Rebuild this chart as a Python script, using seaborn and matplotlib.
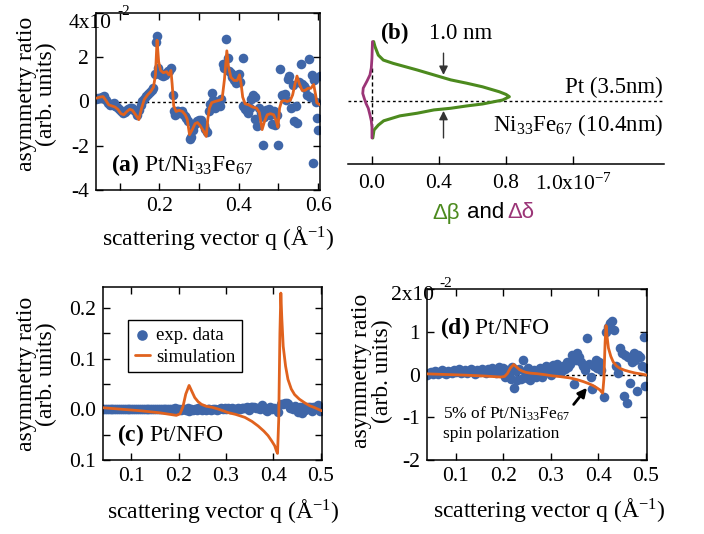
import numpy as np
import pandas as pd
import matplotlib
matplotlib.use("Agg")
import matplotlib.pyplot as plt
import seaborn as sns

# ---------------- data ----------------
# (a) Pt/Ni33Fe67 : asymmetry ratio in units of 1e-2
q_a_exp = [0.041, 0.046, 0.051, 0.056, 0.061, 0.066, 0.070, 0.075, 0.080, 0.085,
           0.089, 0.094, 0.099, 0.103, 0.108, 0.112, 0.117, 0.121, 0.126, 0.130,
           0.135, 0.139, 0.144, 0.148, 0.153, 0.157, 0.162, 0.166, 0.171, 0.175,
           0.180, 0.184, 0.188, 0.191, 0.194, 0.197, 0.201, 0.205, 0.209, 0.213,
           0.217, 0.221, 0.225, 0.229, 0.233, 0.236, 0.240, 0.244, 0.248, 0.252,
           0.256, 0.260, 0.264, 0.268, 0.272, 0.276, 0.280, 0.284, 0.288, 0.292,
           0.296, 0.300, 0.304, 0.308, 0.312, 0.316, 0.320, 0.324, 0.328, 0.332,
           0.336, 0.340, 0.344, 0.348, 0.352, 0.356, 0.360, 0.364, 0.368, 0.372,
           0.376, 0.380, 0.384, 0.388, 0.392, 0.396, 0.400, 0.404, 0.410, 0.412,
           0.416, 0.420, 0.424, 0.428, 0.432, 0.436, 0.440, 0.442, 0.445, 0.450,
           0.455, 0.460, 0.464, 0.468, 0.472, 0.476, 0.480, 0.484, 0.488, 0.492,
           0.496, 0.500, 0.504, 0.508, 0.512, 0.516, 0.520, 0.524, 0.528, 0.532,
           0.536, 0.540, 0.544, 0.548, 0.552, 0.556, 0.560, 0.564, 0.568, 0.572,
           0.576, 0.580, 0.584, 0.588, 0.590, 0.594, 0.597, 0.600, 0.604]
asym_a_exp = [0.12, 0.15, 0.17, 0.22, 0.23, 0.09, -0.05, -0.14, -0.10, -0.08,
              -0.21, -0.25, -0.36, -0.45, -0.51, -0.48, -0.40, -0.33, -0.29, -0.30,
              -0.38, -0.45, -0.59, -0.40, -0.14, 0.02, 0.12, 0.25, 0.33, 0.42,
              0.50, 0.62, 1.23, 2.70, 2.97, 1.50, 1.30, 1.20, 1.15, 1.20,
              1.30, 1.38, 1.40, 1.50, 0.29, -0.44, -0.60, -0.45, -0.41, -0.50,
              -0.41, -0.55, -0.67, -0.74, -0.90, -1.70, -1.60, -1.30, -1.05, -0.95,
              -0.89, -0.82, -0.85, -0.95, -1.05, -1.25, -1.36, -0.44, -0.10, 0.39,
              0.05, -0.30, -0.15, 0.00, -0.20, 0.10, 1.68, 1.50, 2.82, 1.98,
              1.40, 1.30, 1.10, 0.95, 0.85, 1.20, 1.23, 0.90, 1.98, -0.20,
              -0.35, -0.45, -0.50, -0.30, 0.10, 0.30, -0.80, 0.20, -1.10, -0.30,
              -0.50, -1.95, -0.70, -0.40, -0.55, -0.35, -0.60, -1.00, -0.45, -1.05,
              -0.60, -1.95, 1.45, 0.30, 0.25, 0.35, 0.05, 1.00, 1.15, -0.30,
              0.75, -0.90, -0.20, -0.95, 0.90, 1.68, 0.80, 0.70, 0.60, 0.30,
              1.90, 0.20, 1.20, -2.79, 0.95, 0.00, -0.74, -1.30, 1.15]
q_a_sim = [0.041, 0.050, 0.058, 0.065, 0.072, 0.080, 0.088, 0.095, 0.103, 0.110,
           0.118, 0.125, 0.132, 0.140, 0.148, 0.155, 0.162, 0.170, 0.178, 0.185,
           0.190, 0.194, 0.198, 0.203, 0.210, 0.218, 0.224, 0.229, 0.232, 0.236,
           0.242, 0.250, 0.258, 0.265, 0.270, 0.276, 0.282, 0.290, 0.296, 0.303,
           0.310, 0.318, 0.322, 0.326, 0.332, 0.340, 0.350, 0.358, 0.364, 0.370,
           0.374, 0.380, 0.388, 0.396, 0.402, 0.406, 0.410, 0.416, 0.425, 0.435,
           0.445, 0.452, 0.459, 0.465, 0.472, 0.480, 0.488, 0.494, 0.499, 0.503,
           0.508, 0.515, 0.522, 0.530, 0.536, 0.542, 0.547, 0.553, 0.560, 0.567,
           0.575, 0.582, 0.589, 0.594, 0.597, 0.605]
asym_a_sim = [0.15, 0.20, 0.22, 0.05, -0.15, -0.20, -0.25, -0.35, -0.55, -0.60,
              -0.45, -0.35, -0.40, -0.60, -0.82, -0.30, 0.10, 0.30, 0.45, 0.65,
              1.20, 2.77, 1.80, 1.40, 1.30, 1.35, 1.20, 1.40, 0.80, -0.20,
              -0.45, -0.40, -0.45, -0.60, -0.80, -1.50, -1.30, -1.00, -0.95, -1.10,
              -1.30, -1.58, -0.80, -0.30, -0.05, 0.00, 0.05, 0.10, 1.00, 2.29,
              1.60, 1.10, 0.95, 0.95, 1.20, 0.80, 0.20, -0.10, -0.15, -0.25,
              -0.30, -0.50, -1.27, -0.90, -0.60, -0.55, -0.60, -0.85, -1.17, -0.30,
              0.00, 0.05, 0.00, 0.05, 0.30, 0.80, 1.15, 0.80, 0.50, 0.50,
              0.60, 0.60, 0.77, 0.30, -0.06, -0.15]

# (c)/(d) Pt/NFO experimental data, asymmetry ratio in units of 1e-2
q_nfo_exp = [0.040, 0.044, 0.048, 0.052, 0.056, 0.060, 0.064, 0.068, 0.072, 0.076,
             0.080, 0.084, 0.088, 0.092, 0.096, 0.100, 0.104, 0.108, 0.112, 0.116,
             0.120, 0.124, 0.128, 0.132, 0.136, 0.140, 0.144, 0.148, 0.152, 0.156,
             0.160, 0.164, 0.168, 0.172, 0.176, 0.180, 0.184, 0.188, 0.192, 0.196,
             0.200, 0.204, 0.208, 0.212, 0.216, 0.219, 0.222, 0.226, 0.230, 0.234,
             0.238, 0.241, 0.245, 0.249, 0.253, 0.257, 0.261, 0.265, 0.269, 0.273,
             0.277, 0.281, 0.285, 0.289, 0.293, 0.297, 0.301, 0.305, 0.309, 0.313,
             0.317, 0.321, 0.325, 0.329, 0.333, 0.337, 0.341, 0.345, 0.348, 0.352,
             0.356, 0.360, 0.364, 0.368, 0.372, 0.376, 0.380, 0.384, 0.387, 0.390,
             0.394, 0.398, 0.402, 0.406, 0.411, 0.416, 0.420, 0.424, 0.428, 0.432,
             0.436, 0.442, 0.445, 0.449, 0.453, 0.456, 0.460, 0.463, 0.467, 0.470,
             0.474, 0.477, 0.481, 0.484, 0.488, 0.491, 0.495, 0.498, 0.502]
asym_nfo_exp = [0.00, 0.03, 0.06, 0.02, 0.08, 0.05, 0.01, 0.07, 0.10, 0.04,
                0.02, 0.09, 0.06, 0.03, 0.11, 0.05, 0.08, 0.12, 0.04, 0.07,
                0.10, 0.03, 0.09, 0.13, 0.06, 0.02, 0.11, 0.08, 0.05, 0.14,
                0.09, 0.04, 0.12, 0.07, 0.15, 0.10, 0.03, 0.13, 0.18, 0.08,
                0.15, -0.05, 0.10, 0.05, -0.10, 0.18, -0.31, 0.08, -0.12, 0.12,
                -0.10, 0.34, 0.05, -0.08, 0.15, -0.12, 0.05, 0.10, -0.05, 0.08,
                0.15, -0.05, 0.12, 0.20, 0.05, 0.18, -0.02, 0.22, 0.10, 0.25,
                0.15, 0.05, 0.20, 0.12, 0.30, 0.18, 0.25, 0.45, -0.23, 0.35,
                0.50, 0.40, 0.30, 0.20, 0.10, 0.86, 0.25, -0.05, -0.35, 0.20,
                0.35, 0.15, 0.30, 0.10, -0.52, 1.00, 1.10, 1.20, 1.25, 1.05,
                0.20, 0.04, 0.62, 0.50, -0.50, 0.45, -0.66, 0.40, -0.19, 0.30,
                0.50, 0.35, -0.39, 0.45, 0.40, 0.20, 0.88, -0.27, 0.15]
# Pt/NFO simulation (absolute asymmetry ratio, panel c)
q_nfo_sim = [0.040, 0.080, 0.120, 0.160, 0.195, 0.203, 0.209, 0.215, 0.222, 0.228,
             0.234, 0.241, 0.248, 0.258, 0.270, 0.285, 0.304, 0.320, 0.340, 0.355,
             0.368, 0.380, 0.389, 0.397, 0.403, 0.407, 0.409, 0.4115, 0.414, 0.416,
             0.418, 0.421, 0.426, 0.431, 0.438, 0.445, 0.455, 0.466, 0.477, 0.488,
             0.502]
asym_nfo_sim = [0.003, 0.000, -0.003, -0.007, -0.012, -0.009, 0.005, 0.030, 0.047, 0.035,
                0.023, 0.015, 0.0098, 0.006, 0.004, 0.000, -0.0065, -0.010, -0.016, -0.024,
                -0.033, -0.043, -0.052, -0.063, -0.072, -0.083, -0.087, -0.020, 0.150, 0.229,
                0.180, 0.124, 0.085, 0.059, 0.040, 0.029, 0.020, 0.013, 0.007, 0.003,
                -0.003]
spin_fraction = 0.05          # panel (d): 5% of Pt/Ni33Fe67 spin polarization

# (b) depth profiles (depth in nm relative to interface, values in 1e-7)
depth_beta = [1.80, 1.65, 1.39, 1.24, 1.14, 0.94, 0.79, 0.64, 0.54, 0.43,
              0.28, 0.20, 0.13, 0.03, -0.09, -0.15, -0.22, -0.27, -0.37, -0.45,
              -0.60, -0.73, -0.88, -1.12]
delta_beta = [0.010, 0.018, 0.038, 0.068, 0.127, 0.270, 0.370, 0.470, 0.565, 0.660,
              0.760, 0.800, 0.820, 0.780, 0.660, 0.565, 0.470, 0.370, 0.270, 0.167,
              0.070, 0.038, 0.012, 0.005]
depth_delta = [1.80, 1.30, 1.00, 0.79, 0.60, 0.39, 0.23, 0.08, -0.08, -0.22,
               -0.42, -0.60, -0.80, -1.12]
delta_delta = [0.003, 0.000, -0.004, -0.012, -0.030, -0.052, -0.055, -0.046, -0.035, -0.022,
               -0.012, -0.004, 0.000, 0.000]

# ---------------- style ----------------
BLUE = "#3F66A8"
ORANGE = "#E0621E"
GREEN = "#4C8A1E"
PURPLE = "#9B3577"

sns.set_theme(style="ticks")
plt.rcParams.update({
    "font.family": ["Liberation Serif", "DejaVu Serif"],
    "mathtext.fontset": "custom",
    "mathtext.rm": "Liberation Serif",
    "mathtext.it": "Liberation Serif:italic",
    "mathtext.bf": "Liberation Serif:bold",
    "mathtext.default": "regular",
    "axes.unicode_minus": False,
    "axes.edgecolor": "black",
    "axes.linewidth": 1.0,
    "xtick.color": "black",
    "ytick.color": "black",
    "text.color": "black",
})

W, H = 704, 534
fig = plt.figure(figsize=(W / 100, H / 100), dpi=100)


def rect(l, t, r, b):
    return [l / W, 1 - b / H, (r - l) / W, (b - t) / H]


TICK = 15.5
LAB = 17
PANEL = 17


def style_axes(ax):
    for s in ax.spines.values():
        s.set_color("black")
        s.set_linewidth(1.1)
    ax.tick_params(which="both", direction="in", top=True, right=True,
                   length=5, width=1.0, labelsize=TICK, pad=5, colors="black")


def ylabel(x, y):
    fig.text(x / W, 1 - y / H, "asymmetry ratio\n(arb. units)", rotation=90,
             ha="center", va="center", multialignment="center", fontsize=LAB,
             linespacing=0.95)


def xlabel(x, y):
    fig.text(x / W, 1 - y / H, r"scattering vector q ($\AA^{-1}$)",
             ha="center", va="center", fontsize=LAB)


def top_label(x, y_base, mant):
    # Igor-style top tick label "Nx10^-2" with a high exponent
    fig.text(x / W, 1 - y_base / H, mant + "x10", fontsize=TICK,
             ha="left", va="baseline")
    fig.text((x + 48.5) / W, 1 - (y_base - 13) / H, "-2", fontsize=11,
             ha="left", va="baseline")


df_a_exp = pd.DataFrame({"q": q_a_exp, "r": asym_a_exp})
df_a_sim = pd.DataFrame({"q": q_a_sim, "r": asym_a_sim})
df_n_exp = pd.DataFrame({"q": q_nfo_exp, "r": asym_nfo_exp})
df_n_sim = pd.DataFrame({"q": q_nfo_sim, "r": asym_nfo_sim})

# ---------------- (a) ----------------
ax = fig.add_axes(rect(96, 13, 320, 190))
ax.axhline(0, color="black", lw=1.0, ls=(0, (2, 2)), zorder=1)
sns.scatterplot(data=df_a_exp, x="q", y="r", ax=ax, color=BLUE, s=48,
                linewidth=0, zorder=2)
sns.lineplot(data=df_a_sim, x="q", y="r", ax=ax, color=ORANGE, lw=2.0,
             sort=False, estimator=None, zorder=3)
ax.set_xlim(0.04, 0.605)
ax.set_ylim(-4, 4)
ax.set_xticks([0.2, 0.4, 0.6])
ax.set_xticklabels(["0.2", "0.4", "0.6"])
ax.set_xticks([0.1, 0.3, 0.5], minor=True)
ax.set_yticks([-4, -2, 0, 2, 4])
ax.set_yticklabels(["-4", "-2", "0", "2", ""])
ax.set_xlabel("")
ax.set_ylabel("")
style_axes(ax)
ax.text(0.065, 0.14, r"$\mathbf{(a)}$ Pt/Ni$_{33}$Fe$_{67}$", transform=ax.transAxes,
        fontsize=PANEL, ha="left", va="center")
top_label(69, 28, "4")
ylabel(36.5, 94)
xlabel(218, 238)

# ---------------- (b) ----------------
axb = fig.add_axes(rect(348, 12, 664, 164))
axb.axhline(0, color="black", lw=1.0, ls=(0, (2, 2)), zorder=1)
axb.plot([0, 0], [1.0, -0.8], color="black", lw=1.0, ls=(0, (3, 2)), zorder=1)
sns.lineplot(x=delta_beta, y=depth_beta, ax=axb, color=GREEN, lw=2.2,
             sort=False, estimator=None, zorder=3)
sns.lineplot(x=delta_delta, y=depth_delta, ax=axb, color=PURPLE, lw=2.0,
             sort=False, estimator=None, zorder=3)
axb.set_xlim(-0.143, 1.743)
axb.set_ylim(-1.909, 2.697)
for s in ["left", "right", "top"]:
    axb.spines[s].set_visible(False)
axb.spines["bottom"].set_linewidth(1.1)
axb.spines["bottom"].set_color("black")
axb.set_yticks([])
axb.set_xticks([0.0, 0.4, 0.8, 1.2])
axb.set_xticklabels(["0.0", "0.4", "0.8", r"1.0x10$^{-7}$"])
axb.tick_params(axis="x", direction="in", length=6, width=1.0, labelsize=TICK,
                pad=7, colors="black")
axb.set_xlabel("")
axb.set_ylabel("")
arrow_kw = dict(arrowstyle="-|>", color="#333333", lw=1.0, mutation_scale=13,
                shrinkA=0, shrinkB=0)
axb.annotate("", xy=(0.427, 0.79), xytext=(0.427, 1.45), arrowprops=arrow_kw)
axb.annotate("", xy=(0.427, -0.30), xytext=(0.427, -1.12), arrowprops=arrow_kw)
axb.text(0.137, 2.06, r"$\mathbf{(b)}$", fontsize=16.5, ha="center", va="center")
axb.text(0.53, 2.06, "1.0 nm", fontsize=16.5, ha="center", va="center")
axb.text(1.737, 0.42, "Pt (3.5nm)", fontsize=16.5, ha="right", va="center")
axb.text(1.737, -0.73, r"Ni$_{33}$Fe$_{67}$ (10.4nm)", fontsize=16.5, ha="right",
         va="center")
sans = ["Liberation Sans", "DejaVu Sans"]
fig.text(432 / W, 1 - 213 / H, "Δβ", color=GREEN, fontsize=16, family=sans,
         ha="left", va="center")
fig.text(467 / W, 1 - 213 / H, "and", color="black", fontsize=16, family=sans,
         ha="left", va="center")
fig.text(507 / W, 1 - 213 / H, "Δδ", color=PURPLE, fontsize=16, family=sans,
         ha="left", va="center")

# ---------------- (c) ----------------
axc = fig.add_axes(rect(103, 287, 322, 460))
df_c_exp = df_n_exp.assign(r=df_n_exp["r"] / 100.0)
sns.scatterplot(data=df_c_exp, x="q", y="r", ax=axc, color=BLUE, s=48,
                linewidth=0, zorder=2, label="exp. data")
sns.lineplot(data=df_n_sim, x="q", y="r", ax=axc, color=ORANGE, lw=2.0,
             sort=False, estimator=None, zorder=3, label="simulation")
axc.set_xlim(0.04, 0.503)
axc.set_ylim(-0.1, 0.241)
axc.set_xticks([0.1, 0.2, 0.3, 0.4, 0.5])
axc.set_xticklabels(["0.1", "0.2", "0.3", "0.4", "0.5"])
axc.set_yticks([-0.1, 0.0, 0.1, 0.2])
axc.set_yticklabels(["0.1", "0.0", "0.1", "0.2"])
axc.set_yticks([-0.05, 0.05, 0.15], minor=True)
axc.set_xlabel("")
axc.set_ylabel("")
style_axes(axc)
leg = axc.legend(loc="upper left", bbox_to_anchor=(0.114, 0.809), borderaxespad=0,
                 fontsize=13.5, frameon=True, fancybox=False, framealpha=1,
                 edgecolor="black", handlelength=0.8, handletextpad=0.35,
                 borderpad=0.35, labelspacing=0.25, markerscale=1.1)
leg.get_frame().set_linewidth(1.0)
axc.text(0.064, 0.145, r"$\mathbf{(c)}$ Pt/NFO", transform=axc.transAxes,
         fontsize=PANEL, ha="left", va="center")
ylabel(36.5, 374)
xlabel(223, 511)

# ---------------- (d) ----------------
axd = fig.add_axes(rect(427, 289, 647, 460))
axd.axhline(0, color="black", lw=1.0, ls=(0, (2, 2)), zorder=1)
df_d_sim = df_n_sim.assign(r=df_n_sim["r"] * spin_fraction * 100.0)
sns.scatterplot(data=df_n_exp, x="q", y="r", ax=axd, color=BLUE, s=48,
                linewidth=0, zorder=2)
sns.lineplot(data=df_d_sim, x="q", y="r", ax=axd, color=ORANGE, lw=2.0,
             sort=False, estimator=None, zorder=3)
axd.set_xlim(0.04, 0.502)
axd.set_ylim(-2, 2)
axd.set_xticks([0.1, 0.2, 0.3, 0.4, 0.5])
axd.set_xticklabels(["0.1", "0.2", "0.3", "0.4", "0.5"])
axd.set_yticks([-2, -1, 0, 1, 2])
axd.set_yticklabels(["-2", "-1", "0", "1", ""])
axd.set_xlabel("")
axd.set_ylabel("")
style_axes(axd)
axd.text(0.059, 0.772, r"$\mathbf{(d)}$ Pt/NFO", transform=axd.transAxes,
         fontsize=PANEL, ha="left", va="center")
axd.text(0.073, -0.93, r"5% of Pt/Ni$_{33}$Fe$_{67}$", fontsize=12.5, ha="left",
         va="center")
axd.text(0.073, -1.40, "spin polarization", fontsize=12.5, ha="left", va="center")
axd.annotate("", xy=(0.376, -0.31), xytext=(0.348, -0.70),
             arrowprops=dict(arrowstyle="-|>", color="black", lw=2.0,
                             mutation_scale=13, shrinkA=0, shrinkB=0))
top_label(391, 300, "2")
ylabel(372, 371)
xlabel(549, 510)

fig.savefig("out.png", dpi=100)
